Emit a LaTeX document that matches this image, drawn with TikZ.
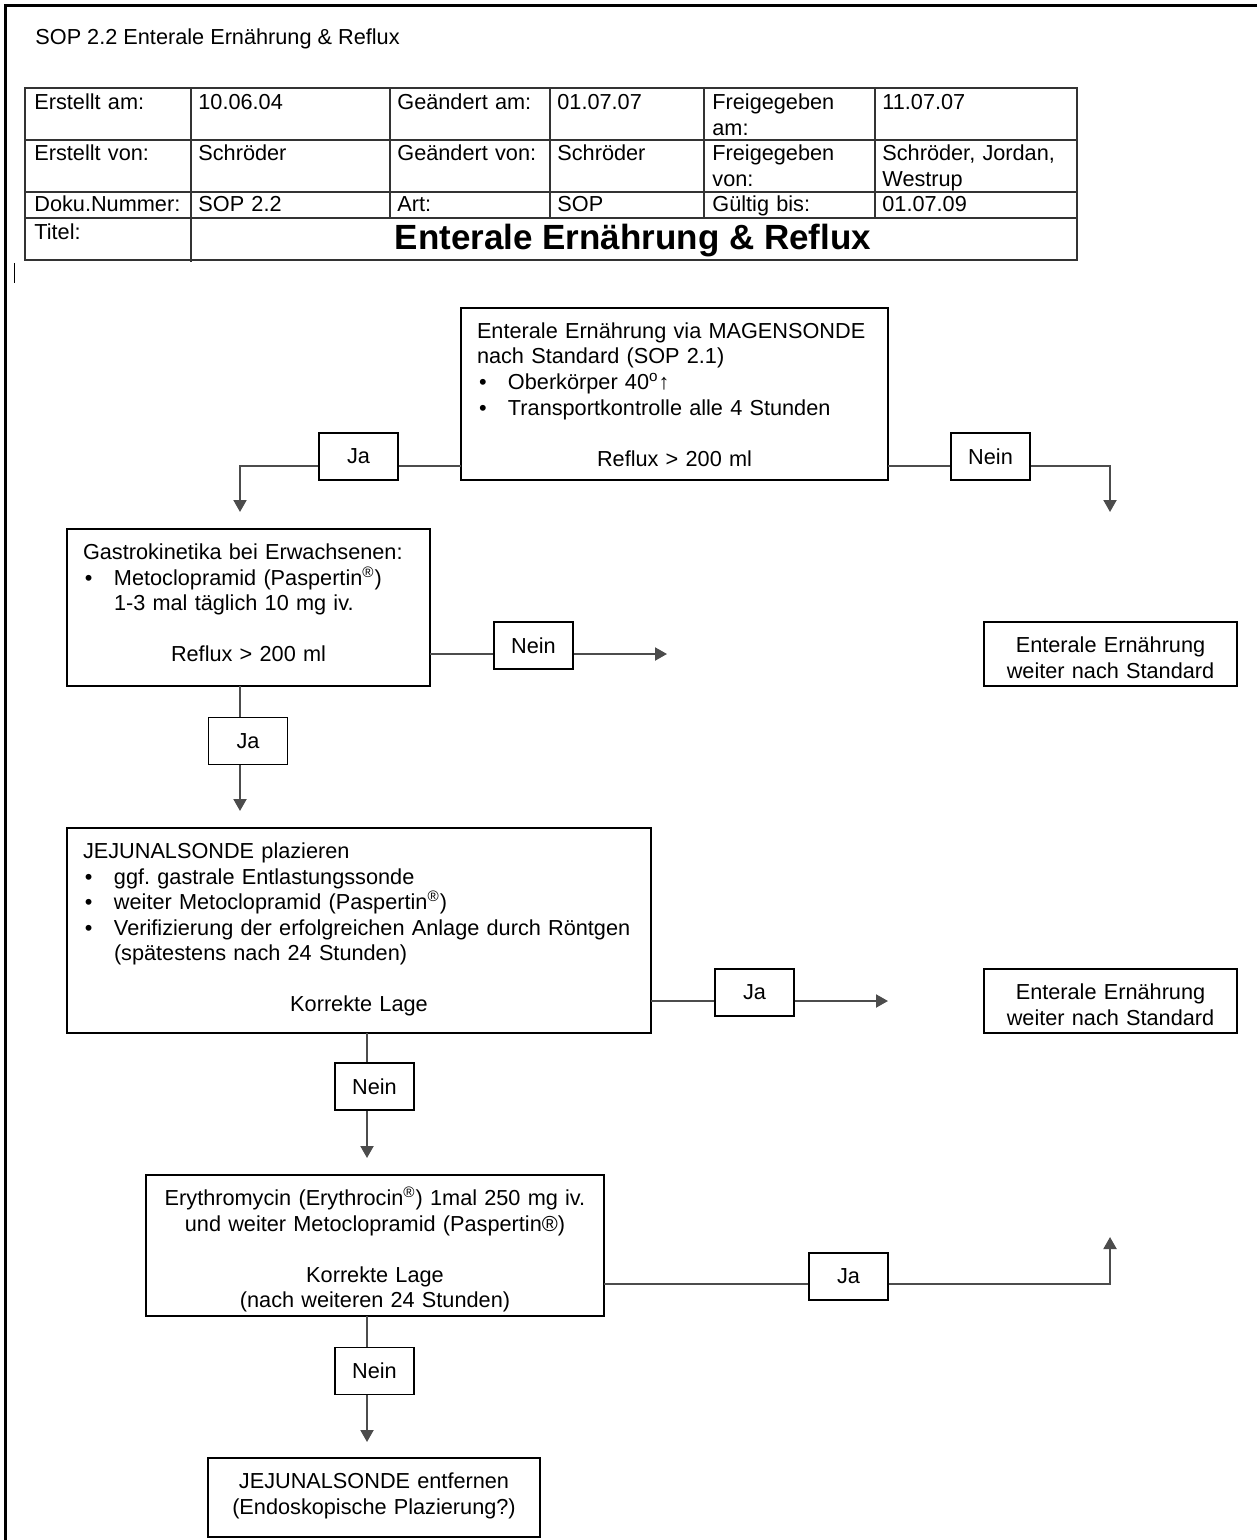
\documentclass[tikz,border=0pt]{standalone}
\usepackage{fontspec}
\setmainfont{Liberation Sans}
\usetikzlibrary{arrows.meta}

\hyphenpenalty=10000
\exhyphenpenalty=10000
\frenchspacing
\newcommand\bul{\makebox[15.5pt][l]{\hspace{1pt}•}}
\newcommand\ind{\hspace*{15.5pt}}

\begin{document}
\begin{tikzpicture}[x=0.5pt, y=-0.5pt,
  font={\fontsize{10.85pt}{12.75pt}\selectfont},
  grid/.style={draw=black!80, line width=0.75pt},
  cell/.style={anchor=base west, inner sep=0pt, text width=100pt, align=left},
  flow/.style={draw, line width=0.75pt, anchor=north west, outer sep=0pt,
    inner xsep=8pt, inner ysep=0pt, text height=15.25pt, align=left},
  lbl/.style={draw, fill=white, line width=0.75pt, minimum width=39.5pt,
    minimum height=23.5pt, inner sep=0pt},
  conn/.style={draw=black!70, line width=1pt, -{Triangle[length=6pt,width=6.5pt]}}]
  \useasboundingbox (0,0) rectangle (1257,1540);
  % Seitenrahmen
  \draw[line width=1.5pt] (1257,6) -- (5,6) -- (5,1540);
  \draw[line width=0.5pt] (14,263) -- (14,283);
  \node[anchor=base west, inner sep=0pt] (head) at (35,45) {SOP 2.2 Enterale Ernährung \& Reflux};

  % Kopftabelle
  \draw[grid] (25,88) rectangle (1077,260);
  \foreach \y in {140,192,218} \draw[grid] (25,\y) -- (1077,\y);
  \foreach \x in {390,550,704,875} \draw[grid] (\x,88) -- (\x,218);
  \draw[grid] (191,88) -- (191,262);
  \node[cell] (t11) at (34,110) {Erstellt am:};
  \node[cell] (t12) at (198,110) {10.06.04};
  \node[cell] (t13) at (397,110) {Geändert am:};
  \node[cell] (t14) at (557,110) {01.07.07};
  \node[cell] (t15) at (712,110) {Freigegeben\\am:};
  \node[cell] (t16) at (882,110) {11.07.07};
  \node[cell] (t21) at (34,161) {Erstellt von:};
  \node[cell] (t22) at (198,161) {Schröder};
  \node[cell] (t23) at (397,161) {Geändert von:};
  \node[cell] (t24) at (557,161) {Schröder};
  \node[cell] (t25) at (712,161) {Freigegeben\\von:};
  \node[cell] (t26) at (882,161) {Schröder, Jordan,\\Westrup};
  \node[cell] (t31) at (34,212) {Doku.Nummer:};
  \node[cell] (t32) at (198,212) {SOP 2.2};
  \node[cell] (t33) at (397,212) {Art:};
  \node[cell] (t34) at (557,212) {SOP};
  \node[cell] (t35) at (712,212) {Gültig bis:};
  \node[cell] (t36) at (882,212) {01.07.09};
  \node[cell] (t41) at (34,240) {Titel:};
  \node[anchor=base, inner sep=0pt, font={\fontsize{17.5pt}{20pt}\selectfont\bfseries}] (titel) at (633,250)
    {Enterale Ernährung \& Reflux};

  % Ablauf
  \node[flow, text width=197.5pt, text depth=70.75pt] (b1) at (461,308)
    {\mbox{Enterale Ernährung via MAGENSONDE}\\ nach Standard (SOP 2.1)\\
     \bul Oberkörper 40\textsuperscript{o}↑\\ \bul Transportkontrolle alle 4 Stunden\\[12.75pt]
     \makebox[\linewidth]{Reflux > 200 ml}};
  \node[flow, text width=165.5pt, text depth=63.25pt] (b2) at (67,529)
    {\mbox{Gastrokinetika bei Erwachsenen:}\\ \bul Metoclopramid (Paspertin\textsuperscript{®})\\
     \ind 1-3 mal täglich 10 mg iv.\\[12.75pt] \makebox[\linewidth]{Reflux > 200 ml}};
  \node[flow, text width=276pt, text depth=87.25pt] (b3) at (67,828)
    {JEJUNALSONDE plazieren\\ \bul ggf. gastrale Entlastungssonde\\
     \bul weiter Metoclopramid (Paspertin\textsuperscript{®})\\
     \mbox{\bul Verifizierung der erfolgreichen Anlage durch Röntgen}\\
     \ind (spätestens nach 24 Stunden)\\[12.75pt] \makebox[\linewidth]{Korrekte Lage}};
  \node[flow, align=center, inner xsep=3pt, text width=223pt, text depth=55.25pt] (b4) at (146,1175)
    {\mbox{Erythromycin (Erythrocin\textsuperscript{®}) 1mal 250 mg iv.}\\
     und weiter Metoclopramid (Paspertin®)\\[12.75pt] Korrekte Lage\\ (nach weiteren 24 Stunden)};
  \node[flow, align=center, text width=150pt, text depth=24.25pt] (b5) at (208,1458)
    {JEJUNALSONDE entfernen\\ (Endoskopische Plazierung?)};
  \node[flow, align=center, text width=110.5pt, text depth=16.75pt] (r1) at (984,622)
    {Enterale Ernährung\\ weiter nach Standard};
  \node[flow, align=center, text width=110.5pt, text depth=16.75pt] (r2) at (984,969)
    {Enterale Ernährung\\ weiter nach Standard};

  % Verbindungen
  \coordinate (c1) at (240,466);  \coordinate (e1) at (240,512);
  \coordinate (c2) at (1110,466); \coordinate (e2) at (1110,512);
  \coordinate (e3) at (667,654);
  \coordinate (e4) at (240,811);
  \coordinate (e5) at (888,1001);
  \coordinate (e6) at (367,1158);
  \coordinate (c7) at (1110,1284); \coordinate (e7) at (1110,1237);
  \coordinate (e8) at (367,1442);
  \draw[conn] (b1.west |- c1) -- (c1) -- (e1);
  \draw[conn] (b1.east |- c2) -- (c2) -- (e2);
  \draw[conn] (b2.east |- e3) -- (e3);
  \draw[conn] (b2.south -| e4) -- (e4);
  \draw[conn] (b3.east |- e5) -- (e5);
  \draw[conn] (b3.south -| e6) -- (e6);
  \draw[conn] (b4.east |- c7) -- (c7) -- (e7);
  \draw[conn] (b4.south -| e8) -- (e8);

  % Ja / Nein
  \node[lbl] (ja1) at (358.5,456.5) {Ja};
  \node[lbl] (nein1) at (990.5,456.5) {Nein};
  \node[lbl] (nein2) at (533.5,645.5) {Nein};
  \node[lbl] (ja2) at (248,741) {Ja};
  \node[lbl] (ja3) at (754.5,992.5) {Ja};
  \node[lbl] (nein3) at (374.5,1086.5) {Nein};
  \node[lbl] (ja4) at (848.5,1276.5) {Ja};
  \node[lbl] (nein4) at (374.5,1371) {Nein};
\end{tikzpicture}
\end{document}
